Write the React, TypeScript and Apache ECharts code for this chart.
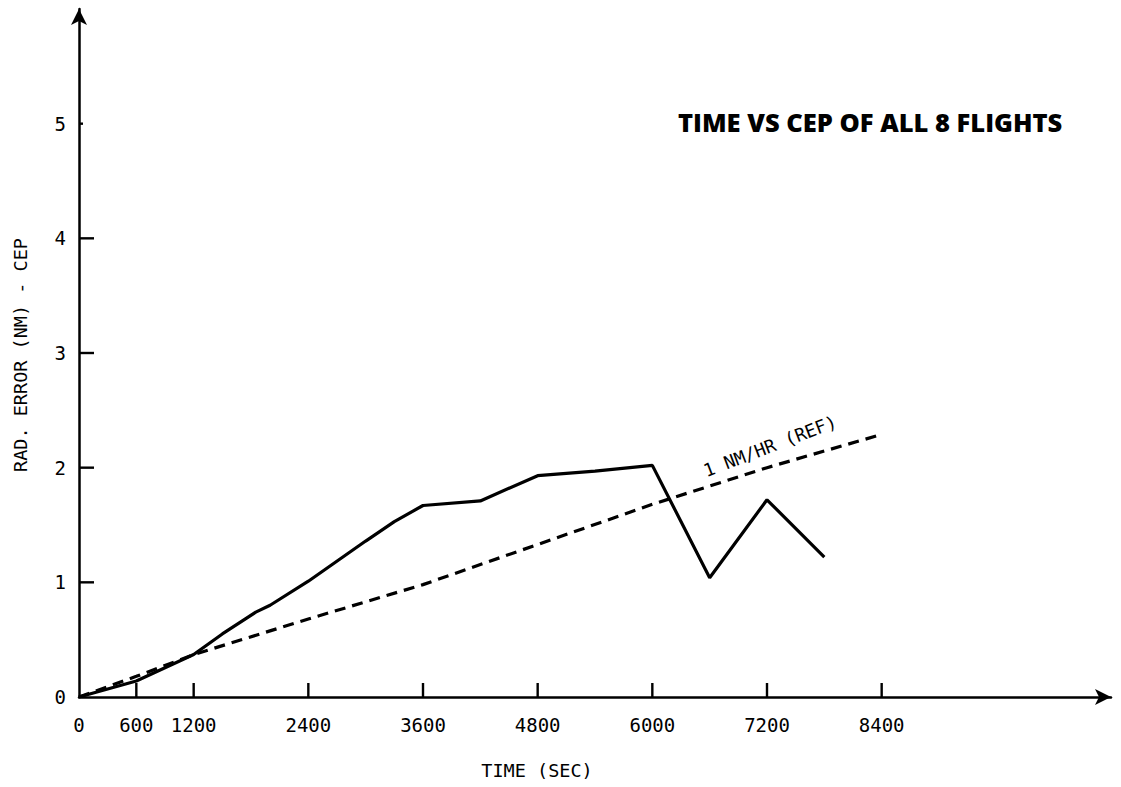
import React, { useEffect, useRef } from "react";
import * as echarts from "echarts";

const xTickValues = [0, 600, 1200, 2400, 3600, 4800, 6000, 7200, 8400];
const yTickValues = [0, 1, 2, 3, 4, 5];
const xTickMarks = [600, 1200, 2400, 3600, 4800, 6000, 7200, 8400];
const yLongTicks = [1, 2, 3, 4];
const yShortTicks = [5];

// Measured CEP of all 8 flights (time in sec, radial error in NM)
const cepTime = [0, 600, 1200, 1500, 1850, 2000, 2400, 3000, 3300, 3600, 4200, 4800, 5400, 6000, 6600, 7200, 7800];
const cepValue = [0, 0.14, 0.37, 0.55, 0.74, 0.8, 1.01, 1.36, 1.53, 1.67, 1.71, 1.93, 1.97, 2.02, 1.04, 1.72, 1.22];

// 1 NM/HR reference line
const refTime = [0, 600, 1200, 2400, 3600, 4800, 6000, 7200, 8400];
const refValue = [0, 0.18, 0.37, 0.68, 0.98, 1.33, 1.68, 2.0, 2.29];

const titleText = "TIME VS CEP OF ALL 8 FLIGHTS";
const refLabel = "1 NM/HR (REF)";
const xName = "TIME (SEC)";
const yName = "RAD. ERROR (NM) - CEP";

const MONO = "'DejaVu Sans Mono', 'Liberation Mono', monospace";

const GRID = { left: 79, right: 10, top: 9, bottom: 90 };
const W = 1121;
const H = 787;

export default function App() {
  const ref = useRef<HTMLDivElement>(null);
  useEffect(() => {
    if (!ref.current) return;
    const chart = echarts.init(ref.current, null, { renderer: "svg" });
    const zip = (a: number[], b: number[]) => a.map((v, i) => [v, b[i]]);

    const texts: any[] = [
      {
        type: "text",
        x: 678,
        y: 122,
        style: {
          text: titleText,
          fill: "#000",
          font: "800 25.5px 'Open Sans', 'DejaVu Sans', sans-serif",
          textVerticalAlign: "middle",
          textAlign: "left",
        },
      },
      {
        type: "text",
        x: 537,
        y: 770,
        style: {
          text: xName,
          fill: "#000",
          fontFamily: MONO,
          fontSize: 18.5,
          textAlign: "center",
          textVerticalAlign: "middle",
        },
      },
      {
        type: "text",
        x: 20,
        y: 355,
        rotation: Math.PI / 2,
        style: {
          text: yName,
          fill: "#000",
          fontFamily: MONO,
          fontSize: 18.5,
          textAlign: "center",
          textVerticalAlign: "middle",
        },
      },
      {
        type: "text",
        x: 770,
        y: 446,
        rotation: (21 * Math.PI) / 180,
        style: {
          text: refLabel,
          fill: "#000",
          fontFamily: MONO,
          fontSize: 18,
          textAlign: "center",
          textVerticalAlign: "middle",
        },
      },
    ];

    chart.setOption({
      animation: false,
      backgroundColor: "#ffffff",
      grid: GRID,
      xAxis: {
        type: "value",
        min: 0,
        max: 10800,
        splitLine: { show: false },
        axisLine: {
          lineStyle: { color: "#000", width: 2.5 },
          symbol: ["none", "arrow"],
          symbolSize: [12, 16],
        },
        axisTick: { show: false },
        axisLabel: {
          customValues: xTickValues,
          formatter: (v: number) => String(v),
          color: "#000",
          fontFamily: MONO,
          fontSize: 19,
          margin: 18,
        },
      },
      yAxis: {
        type: "value",
        min: 0,
        max: 6,
        splitLine: { show: false },
        axisLine: {
          lineStyle: { color: "#000", width: 2.5 },
          symbol: ["none", "arrow"],
          symbolSize: [12, 16],
        },
        axisTick: { show: false },
        axisLabel: {
          customValues: yTickValues,
          formatter: (v: number) => String(v),
          color: "#000",
          fontFamily: MONO,
          fontSize: 19,
          margin: 13,
        },
      },
      series: [
        {
          type: "line",
          data: zip(cepTime, cepValue),
          showSymbol: false,
          lineStyle: { color: "#000", width: 3.2 },
          z: 3,
        },
        {
          type: "line",
          data: zip(refTime, refValue),
          showSymbol: false,
          lineStyle: { color: "#000", width: 3.2, type: [11, 7] },
          z: 2,
        },
      ],
      graphic: texts,
    });

    // inward tick marks positioned through the chart's own scales
    const tick = (v: [number, number], dx: number, dy: number) => {
      const p = chart.convertToPixel({ gridIndex: 0 }, v) as number[];
      return {
        type: "line",
        z: 10,
        silent: true,
        shape: { x1: p[0], y1: p[1], x2: p[0] + dx, y2: p[1] + dy },
        style: { stroke: "#000", lineWidth: 2.4 },
      };
    };
    const ticks = [
      ...xTickMarks.map((v) => tick([v, 0], 0, -14)),
      ...yLongTicks.map((v) => tick([0, v], 15, 0)),
      ...yShortTicks.map((v) => tick([0, v], 4, 0)),
    ];
    chart.setOption({ graphic: [...texts, ...ticks] });

    return () => chart.dispose();
  }, []);
  return (
    <div
      ref={ref}
      style={{ position: "fixed", left: 0, top: 0, width: W, height: H, background: "#fff" }}
    />
  );
}
